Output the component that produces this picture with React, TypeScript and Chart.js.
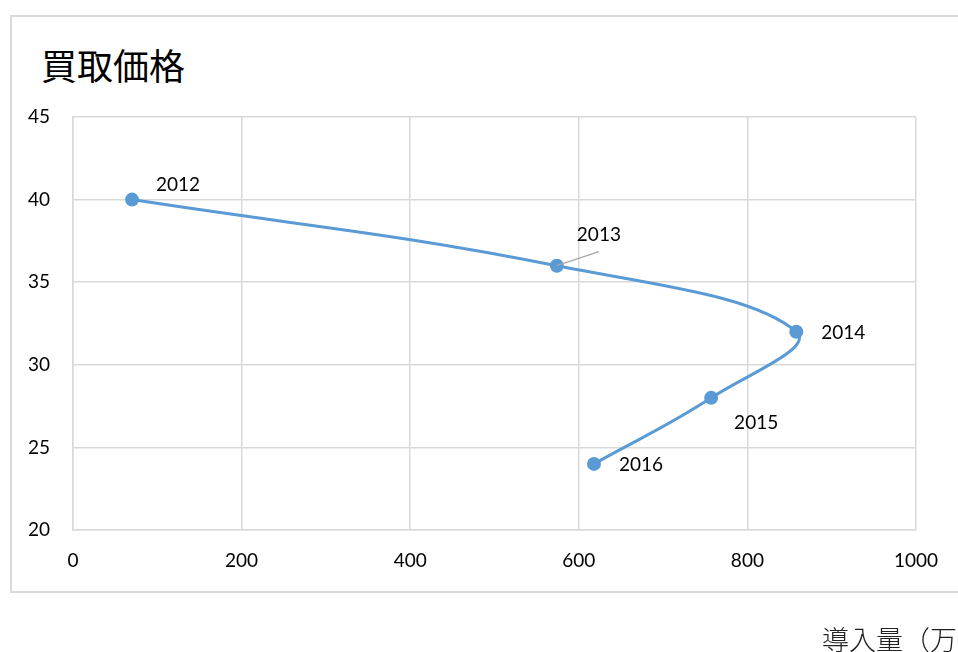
import React, { useEffect, useRef } from 'react';
import { Chart, registerables } from 'chart.js';

Chart.register(...registerables);

const years = ['2012', '2013', '2014', '2015', '2016'];
const installed = [70, 574, 858, 757, 618];
const prices = [40, 36, 32, 28, 24];
const xTicks = [0, 200, 400, 600, 800, 1000];
const yTicks = [20, 25, 30, 35, 40, 45];
const titleText = '買取価格';
const xAxisText = '導入量（万';

const labelPlacement = [
  { dx: 46, dy: -15, leader: false },
  { dx: 42, dy: -31, leader: true },
  { dx: 47, dy: 1, leader: false },
  { dx: 45, dy: 25, leader: false },
  { dx: 47, dy: 1, leader: false },
];

const FONT = 'Lato, "Open Sans", sans-serif';
const FSIZE = 19;

const pointLabels = {
  id: 'pointLabels',
  afterDatasetsDraw(chart: any) {
    const meta = chart.getDatasetMeta(0);
    const ctx = chart.ctx;
    ctx.save();
    meta.data.forEach((pt: any, i: number) => {
      const p = labelPlacement[i];
      if (p.leader) {
        ctx.strokeStyle = '#a6a6a6';
        ctx.lineWidth = 1.2;
        ctx.beginPath();
        ctx.moveTo(pt.x, pt.y);
        ctx.lineTo(pt.x + p.dx, pt.y + p.dy + 17);
        ctx.stroke();
      }
      ctx.fillStyle = '#000';
      ctx.font = FSIZE + 'px ' + FONT;
      ctx.textAlign = 'center';
      ctx.textBaseline = 'middle';
      ctx.fillText(years[i], pt.x + p.dx, pt.y + p.dy);
    });
    ctx.restore();
  },
};

export default function App() {
  const ref = useRef<HTMLCanvasElement | null>(null);

  useEffect(() => {
    if (!ref.current) return;
    const chart = new Chart(ref.current, {
      type: 'scatter',
      data: {
        datasets: [
          {
            label: titleText,
            data: installed.map((x, i) => ({ x, y: prices[i] })),
            showLine: true,
            borderColor: '#5b9bd5',
            backgroundColor: '#5b9bd5',
            borderWidth: 3,
            pointRadius: 7,
            pointHoverRadius: 7,
            pointBorderWidth: 0,
            tension: 0.4,
          },
        ],
      },
      options: {
        responsive: false,
        devicePixelRatio: 1,
        animation: false,
        layout: { padding: { top: 117, right: 42, left: 0, bottom: 0 } },
        plugins: {
          legend: { display: false },
          tooltip: { enabled: false },
          title: { display: false },
        },
        scales: {
          x: {
            type: 'linear',
            min: 0,
            max: 1000,
            afterBuildTicks: (s: any) => {
              s.ticks = xTicks.map((v) => ({ value: v }));
            },
            afterFit: (s: any) => {
              s.height = 122;
            },
            grid: { color: '#d9d9d9', lineWidth: 1.5, drawTicks: false },
            border: { color: '#d9d9d9', width: 1.5 },
            ticks: {
              color: '#000',
              padding: 19,
              font: { family: FONT, size: FSIZE },
              maxRotation: 0,
              callback: (v: any) => String(v),
            },
          },
          y: {
            type: 'linear',
            min: 20,
            max: 45,
            afterBuildTicks: (s: any) => {
              s.ticks = yTicks.map((v) => ({ value: v }));
            },
            afterFit: (s: any) => {
              s.width = 73;
            },
            grid: { color: '#d9d9d9', lineWidth: 1.5, drawTicks: false },
            border: { color: '#d9d9d9', width: 1.5 },
            ticks: {
              color: '#000',
              padding: 23,
              font: { family: FONT, size: FSIZE },
              callback: (v: any) => String(v),
            },
          },
        },
      },
      plugins: [pointLabels],
    });
    return () => chart.destroy();
  }, []);

  return (
    <div
      style={{
        position: 'fixed',
        left: 0,
        top: 0,
        width: 958,
        height: 652,
        overflow: 'hidden',
        background: '#fff',
      }}
    >
      <div
        style={{
          position: 'absolute',
          left: 10,
          top: 15,
          width: 970,
          height: 578,
          border: '2px solid #d9d9d9',
          boxSizing: 'border-box',
        }}
      />
      <div
        style={{
          position: 'absolute',
          left: 41,
          top: 46,
          fontFamily: '"Noto Sans CJK JP", sans-serif',
          fontSize: 36,
          fontWeight: 400,
          lineHeight: 1,
          color: '#000',
          whiteSpace: 'nowrap',
        }}
      >
        {titleText}
      </div>
      <canvas
        ref={ref}
        width={958}
        height={652}
        style={{ position: 'absolute', left: 0, top: 0, width: 958, height: 652 }}
      />
      <div
        style={{
          position: 'absolute',
          left: 822,
          top: 625,
          fontFamily: '"Noto Sans CJK JP", serif',
          fontSize: 27,
          fontWeight: 300,
          lineHeight: 1,
          color: '#222',
          whiteSpace: 'nowrap',
        }}
      >
        {xAxisText}
      </div>
    </div>
  );
}
